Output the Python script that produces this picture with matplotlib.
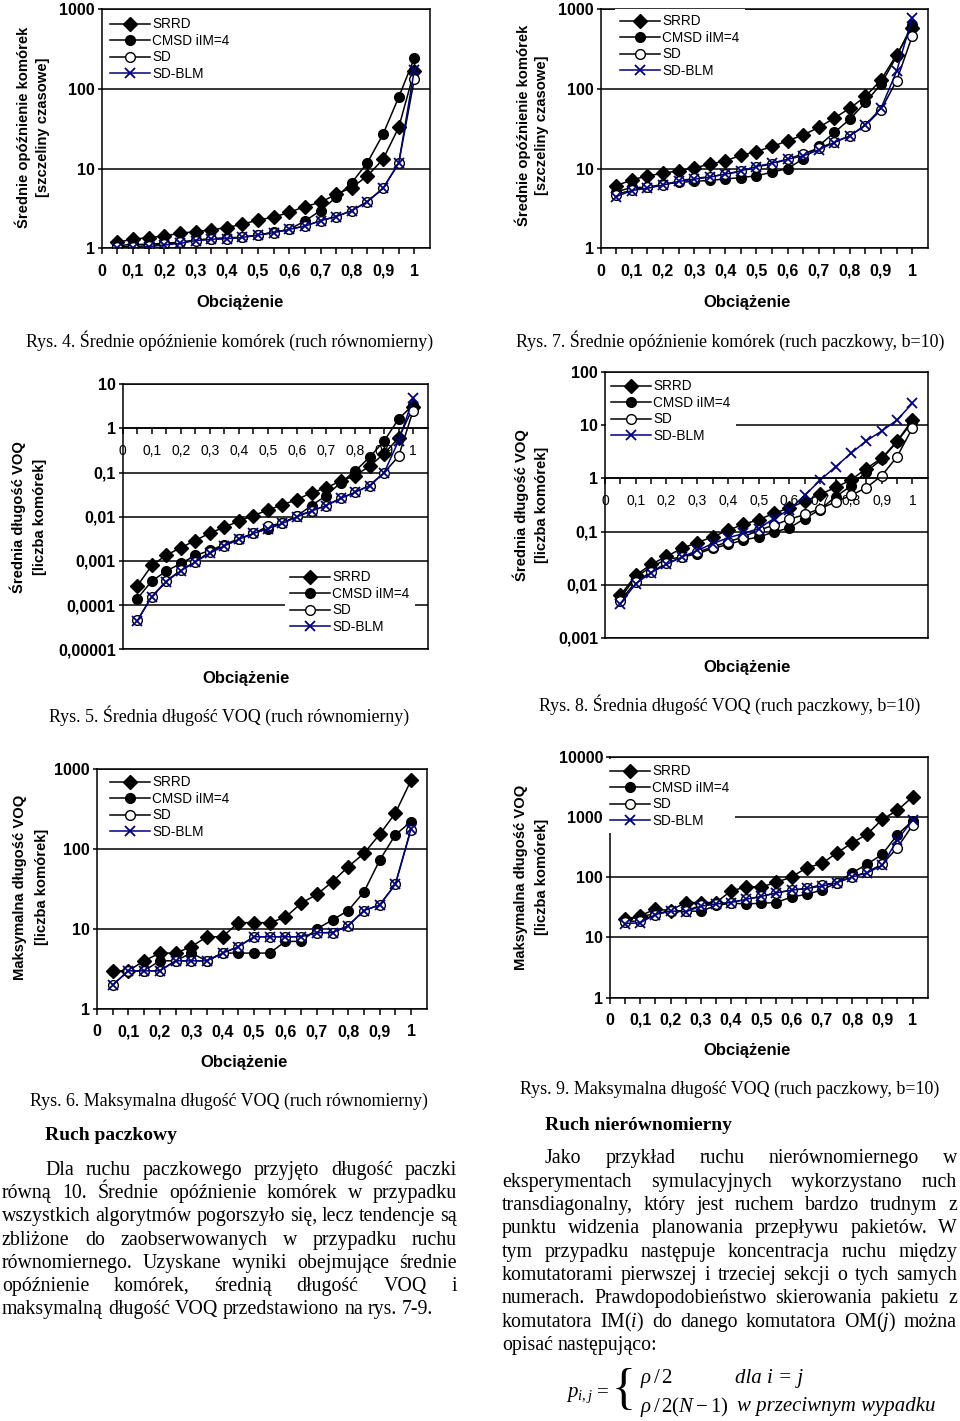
import matplotlib
matplotlib.use('Agg')
import matplotlib.pyplot as plt
from matplotlib.ticker import NullLocator

plt.rcParams['font.family'] = ['Liberation Sans', 'DejaVu Sans']
plt.rcParams['mathtext.fontset'] = 'custom'
plt.rcParams['mathtext.rm'] = 'Liberation Serif'
plt.rcParams['mathtext.it'] = 'Liberation Serif:italic'

# load values (x axis)
load = [0.05, 0.10, 0.15, 0.20, 0.25, 0.30, 0.35, 0.40, 0.45, 0.50,
        0.55, 0.60, 0.65, 0.70, 0.75, 0.80, 0.85, 0.90, 0.95, 1.00]
series_names = ['SRRD', 'CMSD iIM=4', 'SD', 'SD-BLM']
xt_vals = [0, 0.1, 0.2, 0.3, 0.4, 0.5, 0.6, 0.7, 0.8, 0.9, 1.0]
xt_labels = ['0', '0,1', '0,2', '0,3', '0,4', '0,5', '0,6', '0,7', '0,8', '0,9', '1']

# Rys. 4 - mean cell delay, uniform traffic
d1_srrd = [1.19, 1.30, 1.36, 1.43, 1.54, 1.62, 1.70, 1.82, 2.0, 2.27, 2.45, 2.83, 3.33, 3.78, 4.76, 5.77, 8.1, 13.1, 32.8, 168]
d1_cmsd = [1.08, 1.12, 1.12, 1.16, 1.19, 1.27, 1.32, 1.36, 1.37, 1.47, 1.59, 1.73, 2.2, 2.97, 4.37, 6.66, 11.9, 27, 78.6, 243]
d1_sd = [1.05, 1.05, 1.08, 1.12, 1.19, 1.25, 1.30, 1.32, 1.37, 1.47, 1.57, 1.73, 1.9, 2.22, 2.5, 2.97, 3.85, 5.66, 11.7, 133]
d1_blm = [1.0, 1.0, 1.05, 1.10, 1.15, 1.25, 1.30, 1.32, 1.37, 1.47, 1.57, 1.73, 1.9, 2.22, 2.5, 2.97, 3.85, 5.66, 11.7, 174]

# Rys. 7 - mean cell delay, bursty traffic
d2_srrd = [6.1, 7.2, 8.1, 8.7, 9.4, 10.2, 11.3, 12.5, 14.6, 16.3, 18.9, 22.2, 26.4, 32.7, 42.9, 57, 80, 129, 267, 575]
d2_cmsd = [5.1, 5.8, 5.8, 6.35, 6.7, 6.9, 7.1, 7.4, 7.7, 8.1, 9.0, 10.0, 13.2, 19.2, 28.3, 41.5, 67.5, 114, 254, 635]
d2_sd = [4.7, 5.4, 5.8, 6.2, 7.0, 7.5, 7.9, 8.5, 9.2, 10.5, 11.4, 13.1, 15.3, 18, 21.5, 25.7, 34.6, 54.5, 126, 453]
d2_blm = [4.45, 5.3, 5.66, 6.2, 6.9, 7.35, 7.8, 8.5, 9.35, 10.6, 11.7, 13.1, 14.4, 17.1, 21.2, 25.7, 35.3, 57, 165, 770]

# Rys. 5 - mean VOQ length, uniform traffic
d3_srrd = [2.7e-4, 7.9e-4, 1.35e-3, 2.0e-3, 2.9e-3, 4.3e-3, 5.8e-3, 8.0e-3, 0.0107, 0.0142, 0.0187, 0.0246, 0.035, 0.0455, 0.064, 0.086, 0.14, 0.27, 0.61, 3.0]
d3_cmsd = [1.4e-4, 3.5e-4, 5.9e-4, 8.8e-4, 1.33e-3, 1.73e-3, 2.35e-3, 3.2e-3, 4.2e-3, 5.4e-3, 7.1e-3, 0.0104, 0.018, 0.030, 0.059, 0.108, 0.224, 0.52, 1.66, 3.4]
d3_sd = [4.5e-5, 1.55e-4, 3.5e-4, 6.2e-4, 9.6e-4, 1.6e-3, 2.2e-3, 3.1e-3, 4.2e-3, 6.1e-3, 7.3e-3, 0.0104, 0.0135, 0.018, 0.026, 0.036, 0.051, 0.10, 0.236, 2.55]
d3_blm = [4.4e-5, 1.55e-4, 3.4e-4, 6.0e-4, 9.5e-4, 1.5e-3, 2.2e-3, 3.1e-3, 4.2e-3, 5.4e-3, 7.1e-3, 0.010, 0.0135, 0.018, 0.026, 0.036, 0.051, 0.10, 0.53, 4.8]

# Rys. 8 - mean VOQ length, bursty traffic
d4_srrd = [6.3e-3, 0.015, 0.024, 0.034, 0.048, 0.062, 0.079, 0.106, 0.136, 0.168, 0.22, 0.28, 0.37, 0.50, 0.68, 0.93, 1.54, 2.4, 5.0, 12.6]
d4_cmsd = [5.6e-3, 0.0139, 0.0215, 0.030, 0.033, 0.038, 0.048, 0.057, 0.069, 0.079, 0.098, 0.117, 0.176, 0.26, 0.45, 0.72, 1.34, 2.28, 4.9, 11.7]
d4_sd = [5.0e-3, 0.0112, 0.0174, 0.025, 0.033, 0.041, 0.051, 0.064, 0.079, 0.106, 0.132, 0.17, 0.21, 0.27, 0.36, 0.48, 0.67, 1.12, 2.56, 8.8]
d4_blm = [4.4e-3, 0.0104, 0.0168, 0.024, 0.033, 0.044, 0.059, 0.076, 0.092, 0.114, 0.176, 0.26, 0.48, 0.93, 1.66, 2.96, 5.1, 7.8, 12.6, 26]

# Rys. 6 - max VOQ length, uniform traffic
d5_srrd = [3, 3, 4, 5, 5, 6, 8, 8, 12, 12, 12, 14, 21, 27, 39, 60, 88, 152, 280, 720]
d5_cmsd = [3, 3, 3, 4, 4, 5, 4, 5, 5, 5, 5, 7, 7, 10, 13, 17, 29, 72, 150, 220]
d5_sd = [2, 3, 3, 3, 4, 4, 4, 5, 6, 8, 8, 8, 8, 9, 9, 11, 17, 20, 36, 175]
d5_blm = [2, 3, 3, 3, 4, 4, 4, 5, 6, 8, 8, 8, 8, 9, 9, 11, 17, 20, 36, 180]

# Rys. 9 - max VOQ length, bursty traffic
d6_srrd = [20, 23, 29.5, 28, 38, 38, 38, 59, 69, 69, 82, 101, 143, 169, 253, 371, 518, 914, 1290, 2150]
d6_cmsd = [19, 22.5, 24.5, 27.6, 27.6, 27, 34, 37, 36, 37, 38, 47, 52, 61, 81, 118, 165, 240, 510, 860]
d6_sd = [18, 19, 24, 27.6, 27.6, 34, 36, 38, 43, 48, 55, 61, 65, 75, 81, 101, 122, 165, 310, 730]
d6_blm = [17, 17.5, 24, 27.6, 26.5, 33, 36, 38, 43, 48, 55, 61, 65, 71, 81, 101, 118, 158, 420, 880]

W, H = 960, 1421
fig = plt.figure(figsize=(W / 100, H / 100), dpi=100)


def fx(px):
    return px / W


def fy(py):
    return 1 - py / H


styles = [
    dict(marker='D', color='black', mfc='black', mec='black', ms=6.8),
    dict(marker='o', color='black', mfc='black', mec='black', ms=7),
    dict(marker='o', color='black', mfc='white', mec='black', ms=7, mew=1),
    dict(marker='x', color='#000080', mec='#000080', ms=7.5, mew=1.3),
]


def chart(box, data, ylim, yvals, ylabels, cross_one, leg_xy, ylab, ylab_x, ylab_y, xlab_xy, caption, cap_xy):
    left, right, top, bottom = box
    ax = fig.add_axes([fx(left), fy(bottom), (right - left) / W, (bottom - top) / H])
    for vals, name, st in zip(data, series_names, styles):
        ax.plot(load, vals, lw=1.1, label=name, **st)
    ax.set_yscale('log')
    ax.set_ylim(*ylim)
    ax.set_xlim(0, 1.05)
    ax.set_yticks(yvals)
    ax.set_yticklabels(ylabels, fontweight='bold', fontsize=11.5)
    ax.yaxis.set_minor_locator(NullLocator())
    ax.set_xticks(xt_vals)
    ax.set_xticklabels(xt_labels, fontweight='bold', fontsize=11.5)
    ax.set_xticks([0.05, 0.15, 0.25, 0.35, 0.45, 0.55, 0.65, 0.75, 0.85, 0.95], minor=True)
    ax.tick_params(axis='x', which='both', direction='out', length=4, width=1.1, pad=7)
    ax.tick_params(axis='y', direction='out', length=3, width=1.1, pad=2)
    ax.yaxis.grid(True, which='major', color='black', lw=1.1)
    ax.set_axisbelow(True)
    for s in ax.spines.values():
        s.set_linewidth(1.1)
    if cross_one:
        ax.spines['bottom'].set_position(('data', 1))
        ax.plot([0, 1], [0, 0], transform=ax.transAxes, color='black', lw=1.1, clip_on=False)
    leg = ax.legend(loc='upper left', bbox_to_anchor=(fx(leg_xy[0]), fy(leg_xy[1])),
                    bbox_transform=fig.transFigure, fontsize=9.8, handlelength=2.9,
                    handletextpad=0.2, labelspacing=0.18, borderpad=0.4, borderaxespad=0,
                    frameon=True, fancybox=False)
    leg.get_frame().set_edgecolor('none')
    leg.get_frame().set_facecolor('white')
    leg.get_frame().set_alpha(1)
    for line, lx in zip(ylab, ylab_x):
        fig.text(fx(lx), fy(ylab_y), line, rotation=90, ha='center', va='center',
                 fontsize=10.6, fontweight='bold')
    fig.text(fx(xlab_xy[0]), fy(xlab_xy[1]), 'Obciążenie', ha='center', va='center',
             fontsize=12, fontweight='bold')
    fig.text(fx(cap_xy[0]), fy(cap_xy[1]), caption, ha='center', va='center',
             fontsize=12.9, family='Liberation Serif')
    return ax


ylab_delay = ['Średnie opóźnienie komórek', '[szczeliny czasowe]']
ylab_avg = ['Średnia długość VOQ', '[liczba komórek]']
ylab_max = ['Maksymalna długość VOQ', '[liczba komórek]']

chart((101.7, 430, 9, 248.3), [d1_srrd, d1_cmsd, d1_sd, d1_blm], (1, 1000),
      [1, 10, 100, 1000], ['1', '10', '100', '1000'], False, (104.7, 12),
      ylab_delay, (23, 43), 127, (240, 303),
      'Rys. 4. Średnie opóźnienie komórek (ruch równomierny)', (230, 341))

chart((600.7, 927.7, 9, 248.3), [d2_srrd, d2_cmsd, d2_sd, d2_blm], (1, 1000),
      [1, 10, 100, 1000], ['1', '10', '100', '1000'], False, (614.7, 9),
      ylab_delay, (523, 542), 125, (747, 302),
      'Rys. 7. Średnie opóźnienie komórek (ruch paczkowy, b=10)', (730, 341))

chart((122.7, 427.7, 384.3, 649.3), [d3_srrd, d3_cmsd, d3_sd, d3_blm], (1e-5, 10),
      [1e-5, 1e-4, 1e-3, 1e-2, 1e-1, 1, 10],
      ['0,00001', '0,0001', '0,001', '0,01', '0,1', '1', '10'], True, (284.7, 565),
      ylab_avg, (18, 40), 517, (246, 679),
      'Rys. 5. Średnia długość VOQ (ruch równomierny)', (229, 716))

chart((605, 927.7, 372.3, 637.7), [d4_srrd, d4_cmsd, d4_sd, d4_blm], (1e-3, 100),
      [1e-3, 1e-2, 1e-1, 1, 10, 100],
      ['0,001', '0,01', '0,1', '1', '10', '100'], True, (605.7, 374),
      ylab_avg, (521, 542), 505, (747, 667),
      'Rys. 8. Średnia długość VOQ (ruch paczkowy, b=10)', (730, 705))

chart((97, 426.7, 769, 1009), [d5_srrd, d5_cmsd, d5_sd, d5_blm], (1, 1000),
      [1, 10, 100, 1000], ['1', '10', '100', '1000'], False, (104.7, 770),
      ylab_max, (20, 42), 887, (244, 1063),
      'Rys. 6. Maksymalna długość VOQ (ruch równomierny)', (229, 1101))

chart((610, 927.7, 756.7, 997.7), [d6_srrd, d6_cmsd, d6_sd, d6_blm], (1, 10000),
      [1, 10, 100, 1000, 10000], ['1', '10', '100', '1000', '10000'], False, (604.7, 759),
      ylab_max, (521, 542), 877, (747, 1051),
      'Rys. 9. Maksymalna długość VOQ (ruch paczkowy, b=10)', (730, 1089))

# body text, justified line by line (words share one baseline)
renderer = fig.canvas.get_renderer()
body_size = 14.3


def justify(line, x0, x1, y, last=False):
    words = line.split(' ')
    texts = [fig.text(0, fy(y + 5), w, fontsize=body_size, family='Liberation Serif',
                      ha='left', va='baseline') for w in words]
    widths = [t.get_window_extent(renderer).width for t in texts]
    if last or len(words) == 1:
        gap = body_size * 100 / 72 * 0.25
    else:
        gap = (x1 - x0 - sum(widths)) / (len(words) - 1)
    x = x0
    for t, w in zip(texts, widths):
        t.set_x(fx(x))
        x += w + gap


fig.text(fx(45), fy(1136), 'Ruch paczkowy', fontsize=14, fontweight='bold',
         family='Liberation Serif', ha='left', va='center')
left_lines = [
    'Dla ruchu paczkowego przyjęto długość paczki',
    'równą 10. Średnie opóźnienie komórek w przypadku',
    'wszystkich algorytmów pogorszyło się, lecz tendencje są',
    'zbliżone do zaobserwowanych w przypadku ruchu',
    'równomiernego. Uzyskane wyniki obejmujące średnie',
    'opóźnienie komórek, średnią długość VOQ i',
    'maksymalną długość VOQ przedstawiono na rys. 7-9.',
]
left_y = [1170, 1193, 1216, 1240, 1263, 1286, 1309]
for i, (ln, yy) in enumerate(zip(left_lines, left_y)):
    justify(ln, 45 if i == 0 else 2, 457, yy, last=(i == len(left_lines) - 1))

fig.text(fx(545), fy(1125), 'Ruch nierównomierny', fontsize=14, fontweight='bold',
         family='Liberation Serif', ha='left', va='center')
right_lines = [
    'Jako przykład ruchu nierównomiernego w',
    'eksperymentach symulacyjnych wykorzystano ruch',
    'transdiagonalny, który jest ruchem bardzo trudnym z',
    'punktu widzenia planowania przepływu pakietów. W',
    'tym przypadku następuje koncentracja ruchu między',
    'komutatorami pierwszej i trzeciej sekcji o tych samych',
    'numerach. Prawdopodobieństwo skierowania pakietu z',
    'komutatora IM($i$) do danego komutatora OM($j$) można',
    'opisać następująco:',
]
right_y = [1158, 1182, 1205, 1228, 1252, 1275, 1298, 1322, 1345]
for i, (ln, yy) in enumerate(zip(right_lines, right_y)):
    justify(ln, 545 if i == 0 else 502, 957, yy, last=(i == len(right_lines) - 1))

# formula
fig.text(fx(566), fy(1395), r'$p_{i,j}$', fontsize=15, ha='left', va='center')
fig.text(fx(597), fy(1393), '=', fontsize=15, family='Liberation Serif', ha='left', va='center')
fig.text(fx(612), fy(1391), '{', fontsize=36, family='Liberation Serif', ha='left', va='center')
fig.text(fx(640), fy(1378), r'$\rho\,/\,2$', fontsize=15, ha='left', va='center')
fig.text(fx(735), fy(1378), 'dla i = j', fontsize=15, style='italic',
         family='Liberation Serif', ha='left', va='center')
fig.text(fx(640), fy(1407), r'$\rho\,/\,2(N-1)$', fontsize=15, ha='left', va='center')
fig.text(fx(737), fy(1407), 'w przeciwnym wypadku', fontsize=15, style='italic',
         family='Liberation Serif', ha='left', va='center')

fig.savefig('out.png', dpi=100)
